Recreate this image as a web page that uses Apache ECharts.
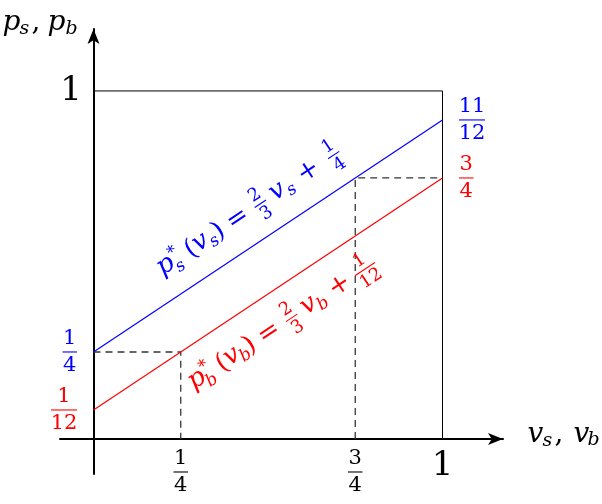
<!DOCTYPE html>
<html>
<head>
<meta charset="utf-8">
<script src="https://cdn.jsdelivr.net/npm/echarts@6/dist/echarts.min.js"></script>
<style>html,body{margin:0;padding:0;background:#fff}#c{width:602px;height:504px}</style>
</head>
<body>
<div id="c"></div>
<script>
// ---- data ----
const boxCorners = [[0, 1], [1, 1], [1, 0]];
const blueLine = [[0, 1 / 4], [1, 11 / 12]];
const redLine = [[0, 1 / 12], [1, 3 / 4]];
const dashLow = [[0, 1 / 4], [1 / 4, 1 / 4], [1 / 4, 0]];
const dashHigh = [[3 / 4, 0], [3 / 4, 3 / 4], [1, 3 / 4]];

const xTickValues = [1 / 4, 3 / 4, 1];
const xTickLabels = ['1/4', '3/4', '1'];
const yLeftValues = [1, 1 / 4, 1 / 12];
const yLeftLabels = ['1', '1/4', '1/12'];
const yRightValues = [11 / 12, 3 / 4];
const yRightLabels = ['11/12', '3/4'];

const blueEqTokens = ['p', '*', 's', '(', 'v', 's', ')', '=', '2/3', 'v', 's', '+', '1/4'];
const redEqTokens = ['p', '*', 'b', '(', 'v', 'b', ')', '=', '2/3', 'v', 'b', '+', '1/12'];

const BLUE = '#0000ff', RED = '#ff0000', BLACK = '#000000';
const FONT = 'DejaVu Serif';

// ---- helpers ----
function txt(x, y, s, size, color, italic, align) {
  return {
    type: 'text', x: x, y: y,
    style: {
      text: s, fill: color,
      font: (italic ? 'italic ' : 'normal ') + 'normal ' + size + 'px "' + FONT + '"',
      align: align || 'center', verticalAlign: 'middle'
    }
  };
}
function fracEls(cx, cy, label, size, color, numOff, denOff, digitW) {
  const parts = label.split('/');
  const n = Math.max(parts[0].length, parts[1].length);
  const w = n * digitW + 3;
  return [
    txt(cx, cy - numOff, parts[0], size, color, false),
    { type: 'line', shape: { x1: cx - w / 2, y1: cy, x2: cx + w / 2, y2: cy }, style: { stroke: color, lineWidth: 1.1 } },
    txt(cx, cy + denOff, parts[1], size, color, false)
  ];
}
function fracWidth(label, digitW) {
  const parts = label.split('/');
  return Math.max(parts[0].length, parts[1].length) * digitW + 3;
}
function labelEls(x, y, label, color, align) {
  if (label.indexOf('/') < 0) {
    return [txt(x, y, label, 34, color, false, align)];
  }
  const w = fracWidth(label, 11.5);
  let cx = x;
  if (align === 'right') cx = x - w / 2;
  if (align === 'left') cx = x + w / 2;
  return fracEls(cx, y, label, 21, color, 13, 14, 11.5);
}

// equation layout template: along-line x, y offset from math axis, size, italic
const eqLayout = [
  { x: 112, dy: -1, size: 26, it: true },
  { x: 125, dy: -8, size: 17, it: false },
  { x: 124, dy: 8, size: 17, it: true },
  { x: 142, dy: 0, size: 26, it: false },
  { x: 154, dy: -1, size: 26, it: true },
  { x: 166, dy: 6, size: 17, it: true },
  { x: 175, dy: 0, size: 26, it: false },
  { x: 198, dy: 0, size: 26, it: false },
  { x: 225, dy: 0, size: 18, frac: true },
  { x: 246, dy: -1, size: 26, it: true },
  { x: 259, dy: 6, size: 17, it: true },
  { x: 283, dy: 0, size: 26, it: false },
  { x: 313, dy: 0, size: 18, frac: true }
];

function eqRender(tokens, line, axisY, shift, color) {
  return function (params, api) {
    const p0 = api.coord(line[0]);
    const p1 = api.coord(line[1]);
    const ang = Math.atan2(p0[1] - p1[1], p1[0] - p0[0]);
    const children = [];
    tokens.forEach(function (t, i) {
      const L = eqLayout[i];
      const x = L.x + shift;
      const y = axisY + L.dy;
      if (L.frac) {
        fracEls(x, y, t, L.size, color, 10, 11.5, 10.5).forEach(function (e) { children.push(e); });
      } else {
        children.push(txt(x, y, t, L.size, color, L.it));
      }
    });
    return { type: 'group', x: p0[0], y: p0[1], rotation: ang, children: children };
  };
}

const chart = echarts.init(document.getElementById('c'), null, { renderer: 'canvas' });

const series = [
  { type: 'line', data: boxCorners, symbol: 'none', lineStyle: { color: BLACK, width: 1 }, z: 2 },
  { type: 'line', data: dashLow, symbol: 'none', lineStyle: { color: '#333', width: 1.3, type: [7, 5] }, z: 2 },
  { type: 'line', data: dashHigh, symbol: 'none', lineStyle: { color: '#333', width: 1.3, type: [7, 5] }, z: 2 },
  { type: 'line', data: blueLine, symbol: 'none', lineStyle: { color: BLUE, width: 1.2 }, z: 3 },
  { type: 'line', data: redLine, symbol: 'none', lineStyle: { color: RED, width: 1.2 }, z: 3 },
  {
    type: 'custom', data: xTickValues.map(function (v, i) { return [v, i]; }), z: 5,
    renderItem: function (params, api) {
      const i = api.value(1);
      const p = api.coord([api.value(0), 0]);
      const lab = xTickLabels[i];
      const y = lab.indexOf('/') < 0 ? p[1] + 27 : p[1] + 33;
      return { type: 'group', children: labelEls(p[0], y, lab, BLACK, 'center') };
    }
  },
  {
    type: 'custom', data: yLeftValues.map(function (v, i) { return [0, v, i]; }), z: 5,
    renderItem: function (params, api) {
      const i = api.value(2);
      const p = api.coord([0, api.value(1)]);
      const lab = yLeftLabels[i];
      const color = i === 0 ? BLACK : (i === 1 ? BLUE : RED);
      if (lab.indexOf('/') < 0) {
        return { type: 'group', children: [txt(p[0] - 22.5, p[1], lab, 34, color, false)] };
      }
      return { type: 'group', children: labelEls(p[0] - 16.5, p[1], lab, color, 'right') };
    }
  },
  {
    type: 'custom', data: yRightValues.map(function (v, i) { return [1, v, i]; }), z: 5,
    renderItem: function (params, api) {
      const i = api.value(2);
      const p = api.coord([1, api.value(1)]);
      const color = i === 0 ? BLUE : RED;
      return { type: 'group', children: labelEls(p[0] + 16.5, p[1], yRightLabels[i], color, 'left') };
    }
  },
  {
    type: 'custom', data: [[0, 0]], z: 6,
    renderItem: eqRender(blueEqTokens, blueLine, -31, -4, BLUE)
  },
  {
    type: 'custom', data: [[0, 0]], z: 6,
    renderItem: eqRender(redEqTokens, redLine, 33, -9, RED)
  },
  {
    type: 'custom', data: [[0, 0]], z: 6,
    renderItem: function (params, api) {
      const o = api.coord([0, 0]);
      return { type: 'group', children: [
        txt(o[0] - 91, o[1] - 416, 'p', 28, BLACK, true, 'left'),
        txt(o[0] - 74, o[1] - 410, 's', 19, BLACK, true, 'left'),
        txt(o[0] - 62, o[1] - 416, ',', 28, BLACK, false, 'left'),
        txt(o[0] - 46, o[1] - 416, 'p', 28, BLACK, true, 'left'),
        txt(o[0] - 28, o[1] - 410, 'b', 19, BLACK, true, 'left'),
        txt(o[0] + 434, o[1] - 4, 'v', 28, BLACK, true, 'left'),
        txt(o[0] + 449, o[1] + 2, 's', 19, BLACK, true, 'left'),
        txt(o[0] + 461, o[1] - 4, ',', 28, BLACK, false, 'left'),
        txt(o[0] + 480, o[1] - 4, 'v', 28, BLACK, true, 'left'),
        txt(o[0] + 494, o[1] + 1, 'b', 19, BLACK, true, 'left')
      ] };
    }
  }
];

chart.setOption({
  animation: false,
  backgroundColor: '#ffffff',
  grid: { left: 60, right: 99, top: 29, bottom: 30, containLabel: false },
  xAxis: {
    type: 'value', min: -0.096, max: 1.1734,
    axisLine: { show: true, onZero: true, symbol: ['none', 'arrow'], symbolSize: [9, 15], lineStyle: { color: BLACK, width: 2 } },
    axisTick: { show: false }, axisLabel: { show: false }, splitLine: { show: false }
  },
  yAxis: {
    type: 'value', min: -0.1006, max: 1.178,
    axisLine: { show: true, onZero: true, symbol: ['none', 'arrow'], symbolSize: [9, 15], lineStyle: { color: BLACK, width: 2 } },
    axisTick: { show: false }, axisLabel: { show: false }, splitLine: { show: false }
  },
  series: series
});
</script>
</body>
</html>
